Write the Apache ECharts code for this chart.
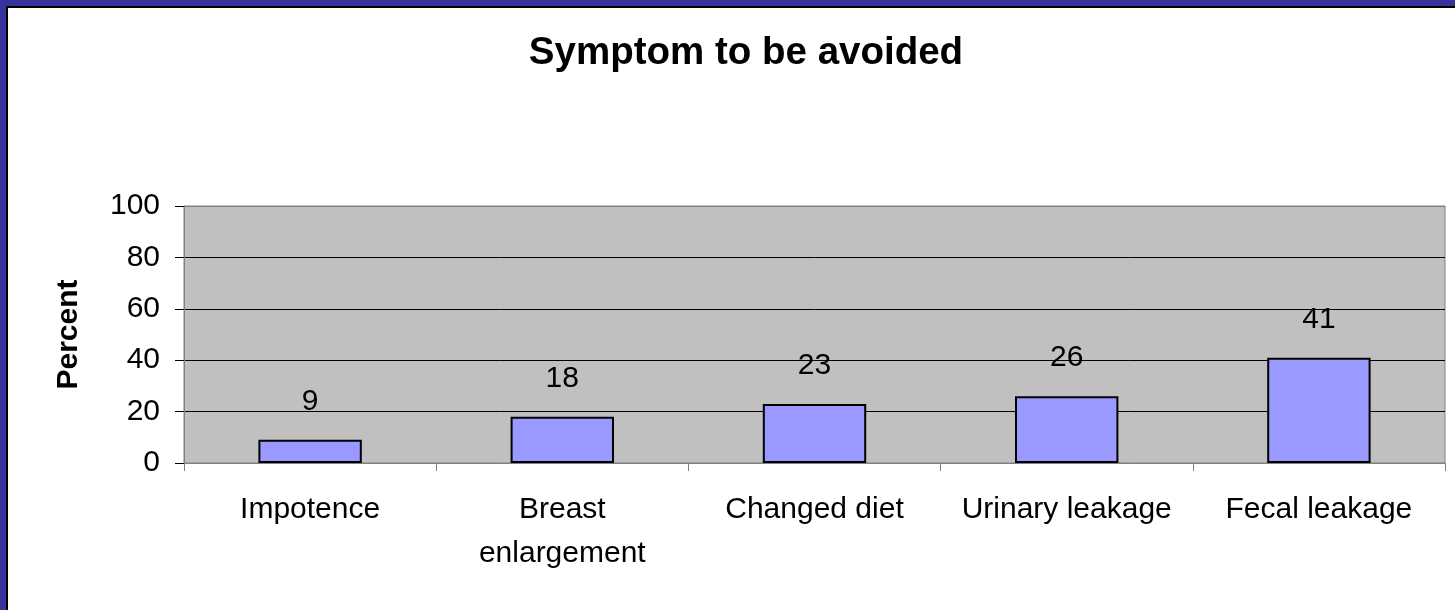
<!DOCTYPE html>
<html>
<head>
<meta charset="utf-8">
<script src="https://cdn.jsdelivr.net/npm/echarts@6/dist/echarts.min.js"></script>
<style>
html,body{margin:0;padding:0;background:#fff;}
#c{width:1455px;height:610px;}
</style>
</head>
<body>
<div id="c"></div>
<script>
const titleText = 'Symptom to be avoided';
const yAxisName = 'Percent';
const categories = ['Impotence', 'Breast\nenlargement', 'Changed diet', 'Urinary leakage', 'Fecal leakage'];
const values = [9, 18, 23, 26, 41];
const yTicks = [0, 20, 40, 60, 80, 100];

const chart = echarts.init(document.getElementById('c'), null, {renderer: 'canvas'});
const font = 'Liberation Sans, Arial, sans-serif';
chart.setOption({
  animation: false,
  backgroundColor: '#fff',
  title: {
    text: titleText,
    left: 741, top: 29, textAlign: 'center',
    textStyle: {fontFamily: font, fontSize: 38.5, fontWeight: 'bold', color: '#000'}
  },
  grid: {
    left: 184, right: 10, top: 206, bottom: 147,
    show: true, backgroundColor: '#C0C0C0', borderColor: '#808080', borderWidth: 1
  },
  xAxis: {
    type: 'category',
    data: categories,
    axisLine: {lineStyle: {color: '#808080', width: 1}},
    axisTick: {show: true, inside: false, length: 8, alignWithLabel: false, lineStyle: {color: '#808080'}},
    axisLabel: {fontFamily: font, fontSize: 30, color: '#000', margin: 25, lineHeight: 44, interval: 0}
  },
  yAxis: {
    type: 'value',
    min: yTicks[0], max: yTicks[yTicks.length - 1], interval: 20,
    name: yAxisName,
    nameLocation: 'middle',
    nameGap: 100,
    nameRotate: 90,
    nameTextStyle: {fontFamily: font, fontSize: 30, fontWeight: 'bold', color: '#000'},
    axisLine: {show: true, lineStyle: {color: '#808080', width: 1}},
    axisTick: {show: true, length: 9, lineStyle: {color: '#000'}},
    axisLabel: {fontFamily: font, fontSize: 30, color: '#000', margin: 24},
    splitLine: {show: true, lineStyle: {color: ['#808080', '#000', '#000', '#000', '#000', '#808080'], width: 1}}
  },
  series: [{
    type: 'bar',
    data: values,
    barWidth: '41%',
    itemStyle: {color: '#9999FF', borderColor: '#000', borderWidth: 2},
    label: {show: true, position: 'top', distance: 23, fontFamily: font, fontSize: 30, color: '#000'}
  }],
  graphic: [
    {type: 'rect', shape: {x: 0, y: 0, width: 1455, height: 6}, style: {fill: '#333399'}, z: 100},
    {type: 'rect', shape: {x: 0, y: 0, width: 6, height: 610}, style: {fill: '#333399'}, z: 100},
    {type: 'rect', shape: {x: 6, y: 6, width: 1449, height: 2}, style: {fill: '#000'}, z: 100},
    {type: 'rect', shape: {x: 6, y: 6, width: 2, height: 604}, style: {fill: '#000'}, z: 100}
  ]
});
</script>
</body>
</html>
